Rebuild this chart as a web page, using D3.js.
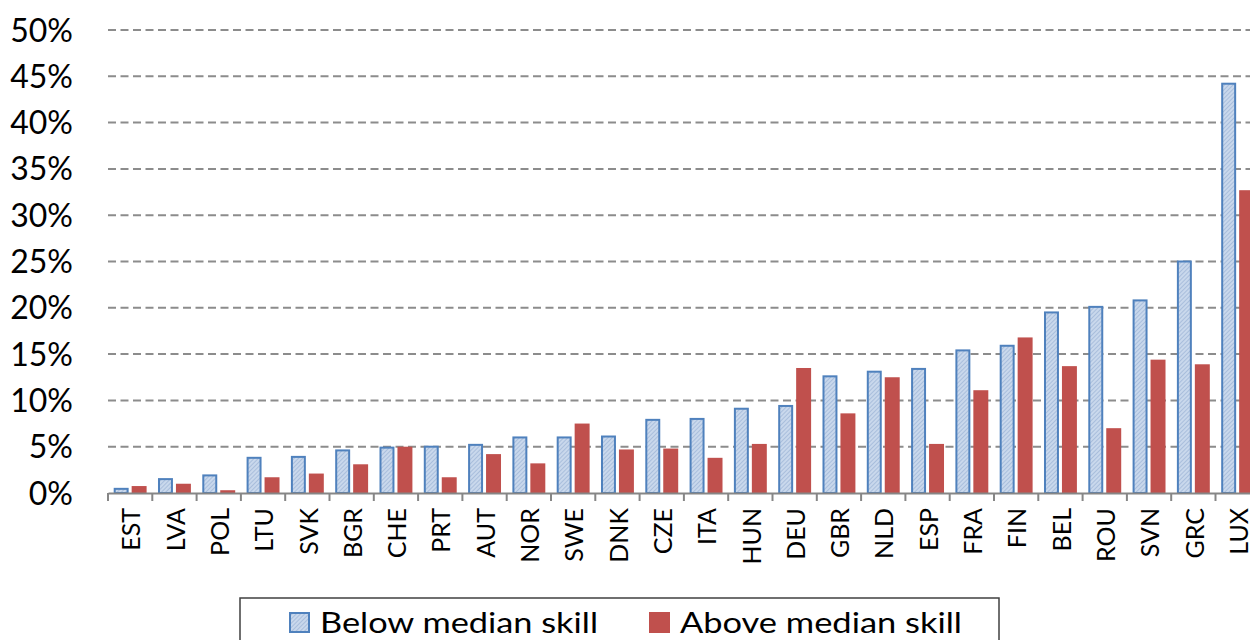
<!DOCTYPE html>
<html>
<head>
<meta charset="utf-8">
<script src="https://cdn.jsdelivr.net/npm/d3@7"></script>
<style>
  body { margin: 0; background: #fff; overflow: hidden; }
  text { font-family: Lato, "Open Sans", sans-serif; fill: #000; }
</style>
</head>
<body>
<div id="container"></div>
<script>
/* DATA */
const countries = ["EST", "LVA", "POL", "LTU", "SVK", "BGR", "CHE", "PRT", "AUT", "NOR", "SWE", "DNK", "CZE",
  "ITA", "HUN", "DEU", "GBR", "NLD", "ESP", "FRA", "FIN", "BEL", "ROU", "SVN", "GRC", "LUX"];
const belowMedian = [0.45, 1.5, 1.9, 3.8, 3.9, 4.6, 4.9, 5.0, 5.2, 6.0, 6.0, 6.1, 7.9,
  8.0, 9.1, 9.4, 12.6, 13.1, 13.4, 15.4, 15.9, 19.5, 20.1, 20.8, 25.0, 44.2];
const aboveMedian = [0.75, 1.0, 0.3, 1.7, 2.1, 3.1, 5.0, 1.7, 4.2, 3.2, 7.5, 4.7, 4.8,
  3.8, 5.3, 13.5, 8.6, 12.5, 5.3, 11.1, 16.8, 13.7, 7.0, 14.4, 13.9, 32.7];
const seriesNames = ["Below median skill", "Above median skill"];
const yTicks = [0, 5, 10, 15, 20, 25, 30, 35, 40, 45, 50];

/* CONSTANTS AND GLOBALS */
const width = 1250;
const height = 640;
const left = 108;
const step = 44.3;

const data = countries.map((c, i) => ({ country: c, below: belowMedian[i], above: aboveMedian[i] }));

const svg = d3.select("#container")
  .append("svg")
  .attr("width", width)
  .attr("height", height);

// hatch for the blue bars
const pattern = svg.append("defs")
  .append("pattern")
  .attr("id", "hatch")
  .attr("patternUnits", "userSpaceOnUse")
  .attr("width", 3)
  .attr("height", 3)
  .attr("patternTransform", "rotate(45)");
pattern.append("rect").attr("width", 3).attr("height", 3).attr("fill", "#c9d8ec");
pattern.append("line")
  .attr("x1", 0).attr("y1", 0).attr("x2", 0).attr("y2", 3)
  .attr("stroke", "#93acd2").attr("stroke-width", 1.2);

/* SCALES */
const xScale = d3.scaleBand()
  .domain(countries)
  .range([left, left + step * countries.length])
  .padding(0);

const inner = d3.scaleBand()
  .domain(["below", "above"])
  .range([0, xScale.bandwidth()])
  .paddingInner(0.167)
  .paddingOuter(0.317);

const yScale = d3.scaleLinear()
  .domain([0, 50])
  .range([493, 30]);

// gridlines
svg.append("g")
  .selectAll("line")
  .data(yTicks.filter(d => d > 0))
  .join("line")
  .attr("x1", left)
  .attr("x2", width)
  .attr("y1", d => yScale(d))
  .attr("y2", d => yScale(d))
  .attr("stroke", "#8c8c8c")
  .attr("stroke-width", 2)
  .attr("stroke-dasharray", "8,4.5");

// y labels
svg.append("g")
  .selectAll("text")
  .data(yTicks)
  .join("text")
  .attr("x", 73)
  .attr("y", d => yScale(d))
  .attr("dy", "0.36em")
  .attr("text-anchor", "end")
  .style("font-size", "32px")
  .text(d => d + "%");

// bars
const groups = svg.append("g")
  .selectAll("g")
  .data(data)
  .join("g")
  .attr("transform", d => `translate(${xScale(d.country)},0)`);

groups.append("rect")
  .attr("x", inner("below") + 1)
  .attr("width", inner.bandwidth() - 2)
  .attr("y", d => yScale(d.below))
  .attr("height", d => yScale(0) - yScale(d.below))
  .attr("fill", "url(#hatch)")
  .attr("stroke", "#4f81bd")
  .attr("stroke-width", 2);

groups.append("rect")
  .attr("x", inner("above"))
  .attr("width", inner.bandwidth())
  .attr("y", d => yScale(d.above))
  .attr("height", d => yScale(0) - yScale(d.above))
  .attr("fill", "#c0504d");

// x axis
const xAxis = d3.axisBottom(xScale).tickSize(0).tickSizeOuter(0).tickFormat("");
const axisG = svg.append("g")
  .attr("transform", `translate(0, ${yScale(0)})`)
  .call(xAxis);
axisG.select(".domain").attr("stroke", "#868686").attr("stroke-width", 2);

axisG.selectAll(".tick-mark")
  .data(countries)
  .join("line")
  .attr("class", "tick-mark")
  .attr("x1", d => xScale(d))
  .attr("x2", d => xScale(d))
  .attr("y1", 0)
  .attr("y2", 8)
  .attr("stroke", "#868686")
  .attr("stroke-width", 2);

svg.append("g")
  .selectAll("text")
  .data(countries)
  .join("text")
  .attr("transform", d => `translate(${xScale(d) + xScale.bandwidth() / 2 + 1.2}, 508) rotate(-90)`)
  .attr("text-anchor", "end")
  .attr("dy", "0.36em")
  .style("font-size", "25px")
  .text(d => d);

/* LEGEND */
svg.append("rect")
  .attr("x", 240)
  .attr("y", 598)
  .attr("width", 759)
  .attr("height", 60)
  .attr("fill", "none")
  .attr("stroke", "#404040")
  .attr("stroke-width", 1.5);

const legend = [
  { name: seriesNames[0], fill: "url(#hatch)", stroke: "#4f81bd", x: 289, len: 278 },
  { name: seriesNames[1], fill: "#c0504d", stroke: "none", x: 649, len: 282 }
];

const items = svg.append("g")
  .selectAll("g")
  .data(legend)
  .join("g")
  .attr("transform", d => `translate(${d.x}, 612)`);

items.append("rect")
  .attr("x", d => d.stroke === "none" ? 0 : 1)
  .attr("y", d => d.stroke === "none" ? 0 : 1)
  .attr("width", d => d.stroke === "none" ? 21 : 19)
  .attr("height", d => d.stroke === "none" ? 21 : 19)
  .attr("fill", d => d.fill)
  .attr("stroke", d => d.stroke)
  .attr("stroke-width", 2);

items.append("text")
  .attr("x", 31)
  .attr("y", 21)
  .attr("textLength", d => d.len)
  .attr("lengthAdjust", "spacingAndGlyphs")
  .style("font-size", "29px")
  .text(d => d.name);
</script>
</body>
</html>
